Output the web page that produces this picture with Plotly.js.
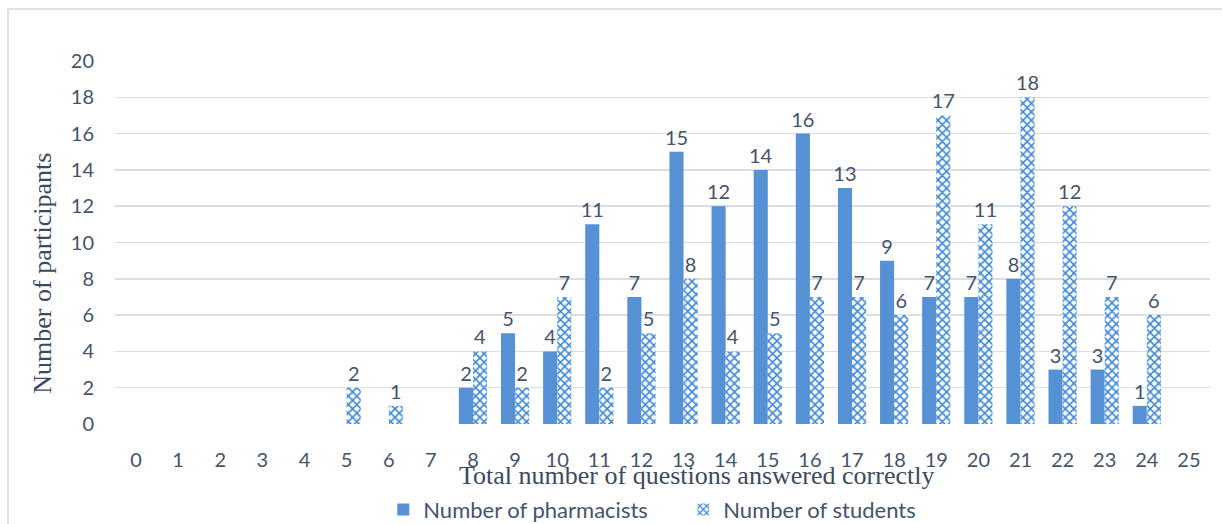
<!DOCTYPE html>
<html>
<head>
<meta charset="utf-8">
<script src="https://cdn.plot.ly/plotly-3.0.1.min.js"></script>
<style>
  html, body { margin: 0; padding: 0; background: #fff; }
  #frame { position: absolute; left: 7px; top: 8px; width: 1240px; height: 540px; border: 2px solid #dde1e8; box-sizing: border-box; }
  #chart { position: absolute; left: 0; top: 0; width: 1222px; height: 524px; }
</style>
</head>
<body>
<div id="frame"></div>
<div id="chart"></div>
<script>
const categories = ['0','1','2','3','4','5','6','7','8','9','10','11','12','13','14','15','16','17','18','19','20','21','22','23','24','25'];
const pharmacists = [0,0,0,0,0,0,0,0,2,5,4,11,7,15,12,14,16,13,9,7,7,8,3,3,1,0];
const students    = [0,0,0,0,0,2,1,0,4,2,7,2,5,8,4,5,7,7,6,17,11,18,12,7,6,0];
const seriesNames = ['Number of pharmacists', 'Number of students'];
const xTitle = 'Total number of questions answered correctly';
const yTitle = 'Number of participants';

const textColor = '#44546a';
const labelFont = {family: 'Lato, "Open Sans", sans-serif', size: 20, color: textColor};
const legendFont = {family: 'Lato, "Open Sans", sans-serif', size: 22, color: textColor};
const titleFont = {family: '"Liberation Serif", "Times New Roman", serif', size: 26, color: '#3b4a5e'};
const lbl = arr => arr.map(v => v === 0 ? '' : String(v));

const traces = [
  {
    type: 'bar', name: seriesNames[0], x: categories, y: pharmacists,
    text: lbl(pharmacists), textposition: 'outside', textfont: labelFont, cliponaxis: false,
    constraintext: 'none', textangle: 0,
    marker: {color: '#5591d4', line: {width: 0}}
  },
  {
    type: 'bar', name: seriesNames[1], x: categories, y: students,
    text: lbl(students), textposition: 'outside', textfont: labelFont, cliponaxis: false,
    constraintext: 'none', textangle: 0,
    marker: {color: '#ffffff', line: {width: 0},
      pattern: {shape: 'x', fgcolor: '#3a86d8', bgcolor: '#ffffff', size: 6, solidity: 0.45}}
  }
];

const layout = {
  width: 1222, height: 524,
  margin: {l: 115, r: 12, t: 61, b: 100, autoexpand: false},
  paper_bgcolor: 'rgba(0,0,0,0)', plot_bgcolor: 'rgba(0,0,0,0)',
  barmode: 'group', bargap: 0.33, bargroupgap: 0,
  showlegend: true,
  legend: {
    orientation: 'h', x: 0.245, xanchor: 'left', y: -0.236, yanchor: 'middle',
    font: legendFont, entrywidth: 255, entrywidthmode: 'pixels', traceorder: 'normal',
    bgcolor: 'rgba(0,0,0,0)'
  },
  xaxis: {
    type: 'category', range: [-0.5, 25.5], automargin: false,
    tickfont: labelFont, ticklabelstandoff: 22, showgrid: false, zeroline: false,
    showline: false, ticks: ''
  },
  yaxis: {
    range: [0, 20], dtick: 2, tickfont: labelFont, ticklabelstandoff: 20, automargin: false,
    showgrid: true, gridcolor: '#dadde3', gridwidth: 1.5, zeroline: false, showline: false
  },
  annotations: [
    {
      text: xTitle, xref: 'paper', yref: 'paper', x: 0.531, y: -0.142,
      xanchor: 'center', yanchor: 'middle', showarrow: false, font: titleFont
    },
    {
      text: yTitle, xref: 'paper', yref: 'paper', x: -0.066, y: 0.416, textangle: -90,
      xanchor: 'center', yanchor: 'middle', showarrow: false, font: titleFont
    }
  ],
  font: labelFont
};

Plotly.newPlot('chart', traces, layout, {displayModeBar: false, staticPlot: true});
</script>
</body>
</html>
